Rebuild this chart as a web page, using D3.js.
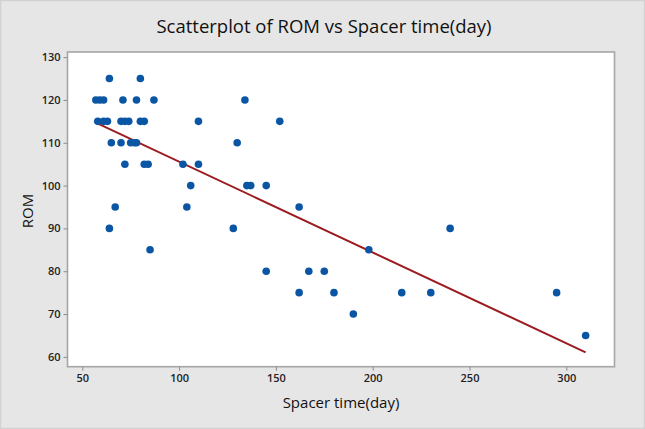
<!DOCTYPE html>
<html>
<head>
<meta charset="utf-8">
<script src="https://cdn.jsdelivr.net/npm/d3@7"></script>
<style>
  html, body { margin: 0; padding: 0; background: #e6e6e6; }
  svg { display: block; }
</style>
</head>
<body>
<svg id="chart" width="645" height="429"></svg>
<script>
// ---- Data ----
const spacerTime = [
  64, 80,
  57, 59, 61, 71, 78, 87, 134,
  58, 61, 63, 70, 72, 74, 80, 82, 110, 152,
  65, 70, 75, 77, 78, 130,
  72, 82, 84, 102, 110,
  106, 135, 137, 145,
  67, 104, 162,
  64, 128, 240,
  85, 198,
  145, 167, 175,
  162, 180, 215, 230, 295,
  190,
  310
];
const rom = [
  125, 125,
  120, 120, 120, 120, 120, 120, 120,
  115, 115, 115, 115, 115, 115, 115, 115, 115, 115,
  110, 110, 110, 110, 110, 110,
  105, 105, 105, 105, 105,
  100, 100, 100, 100,
  95, 95, 95,
  90, 90, 90,
  85, 85,
  80, 80, 80,
  75, 75, 75, 75, 75,
  70,
  65
];
const xTicks = [50, 100, 150, 200, 250, 300];
const yTicks = [60, 70, 80, 90, 100, 110, 120, 130];
const titleText = "Scatterplot of ROM vs Spacer time(day)";
const xLabel = "Spacer time(day)";
const yLabel = "ROM";

const points = spacerTime.map((x, i) => ({ x, y: rom[i] }));

// ---- Layout ----
const W = 645, H = 429;
const frame = { left: 67.5, right: 614.5, top: 52, bottom: 366.7 };
const FONT = "'Open Sans', 'Noto Sans', sans-serif";

const svg = d3.select("#chart");

svg.append("rect")
  .attr("x", 0.5).attr("y", 0.5).attr("width", W - 1).attr("height", H - 1)
  .attr("fill", "#e6e6e6").attr("stroke", "#d2d2d2").attr("stroke-width", 1.5);

const x = d3.scaleLinear().domain([42.36, 324.9]).range([frame.left, frame.right]);
const y = d3.scaleLinear().domain([57.7, 131.2]).range([frame.bottom, frame.top]);

// plot area
svg.append("rect")
  .attr("x", frame.left).attr("y", frame.top)
  .attr("width", frame.right - frame.left).attr("height", frame.bottom - frame.top)
  .attr("fill", "#ffffff").attr("stroke", "#a6a6a6").attr("stroke-width", 1.6);

// axes
const xAxis = svg.append("g")
  .attr("transform", `translate(0,${frame.bottom})`)
  .call(d3.axisBottom(x).tickValues(xTicks).tickSize(4).tickPadding(4).tickFormat(d3.format("d")));
const yAxis = svg.append("g")
  .attr("transform", `translate(${frame.left},0)`)
  .call(d3.axisLeft(y).tickValues(yTicks).tickSize(4).tickPadding(3).tickFormat(d3.format("d")));

[xAxis, yAxis].forEach(g => {
  g.select(".domain").remove();
  g.selectAll(".tick line").attr("stroke", "#8c8c8c");
  g.selectAll(".tick text")
    .attr("fill", "#222")
    .style("font-family", FONT)
    .style("font-size", "11px")
    .style("font-weight", "600");
});

// regression line (least squares fit of the data)
const mx = d3.mean(points, d => d.x), my = d3.mean(points, d => d.y);
const sxy = d3.sum(points, d => (d.x - mx) * (d.y - my));
const sxx = d3.sum(points, d => (d.x - mx) * (d.x - mx));
const slope = sxy / sxx, intercept = my - slope * mx;
const [xmin, xmax] = d3.extent(points, d => d.x);
svg.append("line")
  .attr("x1", x(xmin)).attr("y1", y(intercept + slope * xmin))
  .attr("x2", x(xmax)).attr("y2", y(intercept + slope * xmax))
  .attr("stroke", "#9b1b1f").attr("stroke-width", 2);

// points
svg.append("g").selectAll("circle")
  .data(points)
  .join("circle")
  .attr("cx", d => x(d.x))
  .attr("cy", d => y(d.y))
  .attr("r", 3.8)
  .attr("fill", "#0b56a4");

// title
svg.append("text")
  .attr("x", 324).attr("y", 33)
  .attr("text-anchor", "middle")
  .attr("fill", "#111")
  .style("font-family", FONT)
  .style("font-size", "18.5px")
  .style("font-weight", "500")
  .text(titleText);

// axis labels
svg.append("text")
  .attr("x", 341).attr("y", 408)
  .attr("text-anchor", "middle")
  .attr("fill", "#111")
  .style("font-family", FONT)
  .style("font-size", "15px")
  .style("font-weight", "500")
  .text(xLabel);

svg.append("text")
  .attr("transform", `translate(33,211) rotate(-90)`)
  .attr("text-anchor", "middle")
  .attr("fill", "#111")
  .style("font-family", FONT)
  .style("font-size", "15px")
  .style("font-weight", "500")
  .text(yLabel);
</script>
</body>
</html>
